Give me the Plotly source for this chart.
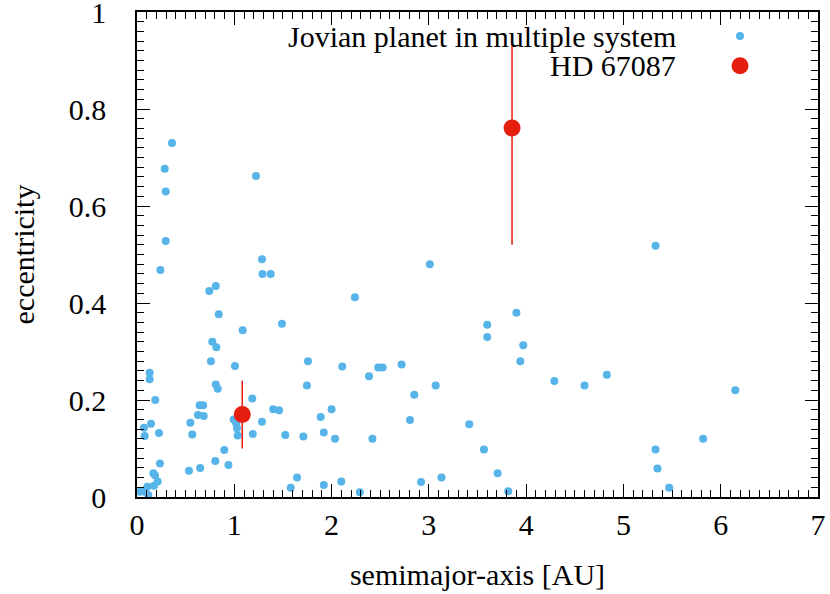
import plotly.graph_objects as go

# Jovian planets in multiple systems (semimajor axis [AU], eccentricity)
semimajor = [
    0.36, 0.285, 1.223, 0.295, 0.295, 0.24, 1.285, 1.29, 1.374, 0.743,
    0.81, 2.24, 3.01, 1.49, 0.84, 1.086, 0.774, 0.815, 0.76, 1.007,
    0.13, 0.13, 0.81, 0.83, 0.188, 1.185, 0.644, 0.68, 0.627, 0.686,
    1.40, 1.46, 0.994, 1.02, 1.285, 0.548, 0.144, 0.072, 1.028, 0.226,
    0.568, 0.079, 1.035, 1.19, 0.897, 0.236, 0.805, 0.94, 0.534, 0.65,
    0.168, 0.185, 0.213, 0.175, 0.106, 0.048, 0.082, 0.116, 0.031, 1.757,
    2.11, 2.48, 2.525, 2.72, 2.385, 1.747, 3.07, 2.85, 2.00, 1.888,
    2.806, 3.415, 1.524, 1.71, 1.92, 2.035, 2.42, 1.645, 1.58, 1.92,
    2.10, 2.29, 2.92, 3.13, 5.33, 3.90, 3.60, 3.60, 3.97, 3.94,
    4.29, 4.60, 4.83, 3.566, 3.707, 3.816, 5.33, 5.35, 5.47, 5.82,
    6.15,
]
eccentricity = [
    0.730, 0.677, 0.662, 0.630, 0.528, 0.468, 0.490, 0.460, 0.460, 0.425,
    0.435, 0.412, 0.480, 0.357, 0.377, 0.344, 0.320, 0.309, 0.280, 0.270,
    0.256, 0.243, 0.232, 0.223, 0.200, 0.203, 0.189, 0.189, 0.169, 0.167,
    0.181, 0.179, 0.160, 0.152, 0.155, 0.153, 0.151, 0.143, 0.142, 0.132,
    0.129, 0.126, 0.127, 0.130, 0.097, 0.069, 0.074, 0.066, 0.054, 0.060,
    0.049, 0.045, 0.032, 0.023, 0.021, 0.013, 0.011, 0.004, 0.011, 0.280,
    0.269, 0.267, 0.267, 0.273, 0.249, 0.230, 0.230, 0.211, 0.181, 0.165,
    0.159, 0.150, 0.128, 0.125, 0.133, 0.120, 0.120, 0.040, 0.019, 0.025,
    0.032, 0.010, 0.031, 0.040, 0.518, 0.380, 0.355, 0.330, 0.313, 0.280,
    0.239, 0.230, 0.252, 0.098, 0.049, 0.012, 0.098, 0.059, 0.019, 0.120,
    0.220,
]

# HD 67087 b and c
hd_a = [1.082, 3.855]
hd_e = [0.170, 0.761]
hd_err_plus = [0.070, 0.170]
hd_err_minus = [0.070, 0.241]

x_ticks = [0, 1, 2, 3, 4, 5, 6, 7]
y_ticks = [0, 0.2, 0.4, 0.6, 0.8, 1]
y_ticktext = ["0", "0.2", "0.4", "0.6", "0.8", "1"]

BLUE = "#56b4e9"
RED = "#e51e10"
FONT = "Liberation Serif, Times New Roman, serif"

fig = go.Figure()
fig.add_trace(go.Scatter(
    x=semimajor, y=eccentricity, mode="markers",
    marker=dict(color=BLUE, size=8),
    name="Jovian planet in multiple system",
    cliponaxis=False,
))
fig.add_trace(go.Scatter(
    x=hd_a, y=hd_e, mode="markers",
    marker=dict(color=RED, size=17),
    error_y=dict(type="data", array=hd_err_plus, arrayminus=hd_err_minus,
                 color=RED, thickness=1.5, width=0),
    name="HD 67087",
))

# gnuplot-style key: right-aligned text, symbol on the right
legend_rows = [("Jovian planet in multiple system", BLUE, 8, 0.9505),
               ("HD 67087", RED, 17, 0.889)]
for label, col, sz, yp in legend_rows:
    fig.add_annotation(text=label, xref="paper", yref="paper", x=0.795, y=yp,
                       xanchor="right", yanchor="middle", showarrow=False,
                       font=dict(size=30, color="black", family=FONT))
    fig.add_shape(type="circle", xref="paper", yref="paper",
                  xsizemode="pixel", ysizemode="pixel",
                  xanchor=0.8855, yanchor=yp,
                  x0=-sz / 2, x1=sz / 2, y0=-sz / 2, y1=sz / 2,
                  fillcolor=col, line=dict(width=0))

axis_common = dict(
    showgrid=False, zeroline=False, showline=True, linecolor="black",
    linewidth=1.5, mirror="allticks", ticks="inside", ticklen=13,
    tickwidth=1.2, tickcolor="black", automargin=False,
    ticklabeloverflow="allow",
    tickfont=dict(size=30, color="black", family=FONT),
)
fig.update_xaxes(
    range=[0, 7], tickvals=x_ticks,
    minor=dict(dtick=0.1, ticks="inside", ticklen=7, tickcolor="black", tickwidth=1),
    title=dict(text="semimajor-axis [AU]", font=dict(size=30, family=FONT, color="black"),
               standoff=24),
    ticklabelstandoff=0,
    **axis_common,
)
fig.update_yaxes(
    range=[0, 1], tickvals=y_ticks, ticktext=y_ticktext,
    minor=dict(dtick=0.02, ticks="inside", ticklen=7, tickcolor="black", tickwidth=1),
    title=dict(text="eccentricity", font=dict(size=30, family=FONT, color="black"),
               standoff=25),
    ticklabelstandoff=23,
    **axis_common,
)
fig.update_layout(
    width=830, height=594,
    margin=dict(l=137, r=12, t=12, b=97),
    paper_bgcolor="white", plot_bgcolor="white",
    showlegend=False,
    font=dict(family=FONT, color="black"),
)

# drop the default 8px page margin so the figure fills the window
fig.write_html("out.html", config={"displayModeBar": False},
               post_script="document.body.style.margin = '0';")
